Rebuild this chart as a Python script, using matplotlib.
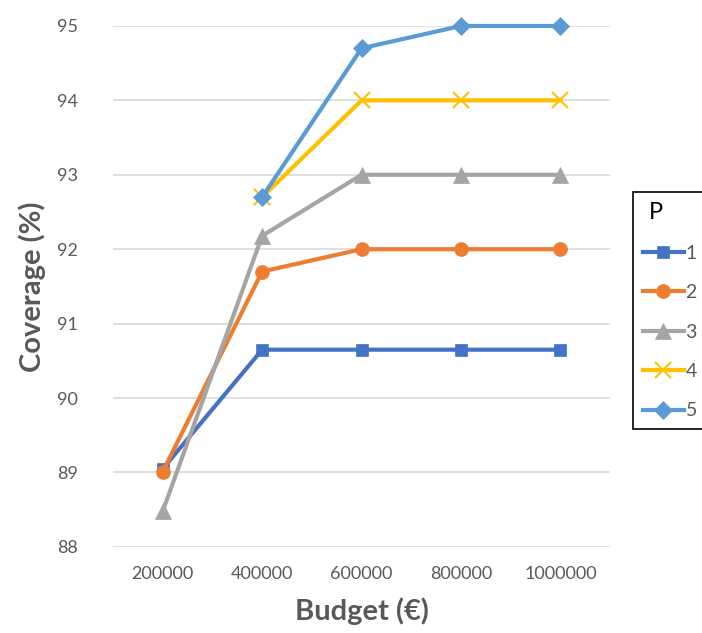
import numpy as np
import matplotlib
matplotlib.use('Agg')
import matplotlib.pyplot as plt

plt.rcParams['font.family'] = ['Lato', 'DejaVu Sans']

budget = ['200000', '400000', '600000', '800000', '1000000']
p1 = [89.05, 90.65, 90.65, 90.65, 90.65]
p2 = [89.01, 91.7, 92.0, 92.0, 92.0]
p3 = [88.48, 92.18, 93.0, 93.0, 93.0]
p4 = [np.nan, 92.7, 94.0, 94.0, 94.0]
p5 = [np.nan, 92.7, 94.7, 95.0, 95.0]
series = [('1', p1), ('2', p2), ('3', p3), ('4', p4), ('5', p5)]

colors = ['#4472C4', '#ED7D31', '#A5A5A5', '#FFC000', '#5B9BD5']
markers = [('s', 9), ('o', 10), ('^', 11), ('x', 11), ('D', 9)]

fig = plt.figure(figsize=(7.02, 6.33), dpi=100)
ax = fig.add_axes([0.161, 0.136, 0.708, 0.823])

x = np.arange(len(budget))
for (name, vals), c, (m, ms) in zip(series, colors, markers):
    ax.plot(x, vals, color=c, lw=3, marker=m, markersize=ms,
            markeredgewidth=1.5 if m == 'x' else 0.5, markeredgecolor=c,
            label=name, clip_on=False, zorder=3)

ax.set_xlim(-0.5, len(budget) - 0.5)
ax.set_ylim(88, 95)
ax.set_yticks(range(88, 96))
ax.set_xticks(x)
ax.set_xticklabels(budget)
ax.grid(axis='y', color='#d9d9d9', lw=1.2)
ax.set_axisbelow(True)
for s in ax.spines.values():
    s.set_visible(False)
ax.tick_params(length=0, labelsize=13, colors='#595959')
ax.tick_params(axis='y', pad=25)
ax.tick_params(axis='x', pad=14)

ax.set_xlabel('Budget (€)', fontsize=21, fontweight='bold', color='#595959', labelpad=11)
ax.set_ylabel('Coverage (%)', fontsize=21, fontweight='bold', color='#595959', labelpad=8)

# legend sits at the right edge, partly outside the figure
leg = fig.legend(loc='upper left', bbox_to_anchor=(0.9017, 0.697), borderaxespad=0,
                 title='P', fontsize=14, title_fontsize=17, handlelength=2.1,
                 handletextpad=0.1, labelspacing=1.15, borderpad=0.5,
                 fancybox=False, framealpha=1)
leg.get_frame().set_edgecolor('black')
leg.get_frame().set_linewidth(1.2)
leg._legend_box.align = 'left'
leg.get_title().set_position((6, 0))
for t in leg.get_texts():
    t.set_color('#595959')

fig.savefig('out.png', dpi=100)
